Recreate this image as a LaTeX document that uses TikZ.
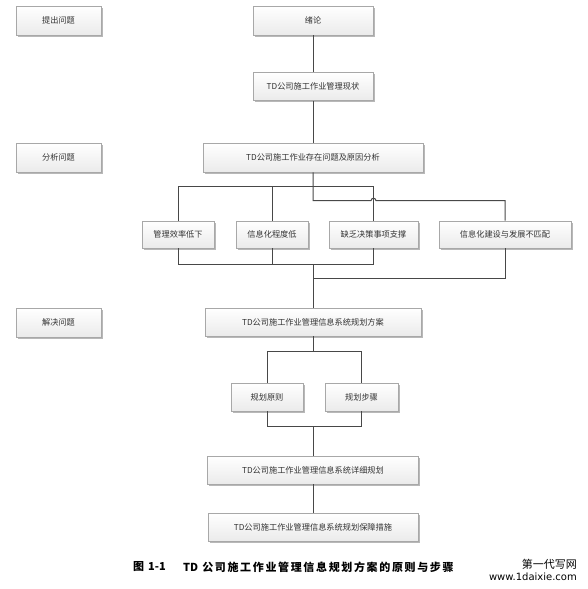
\documentclass[tikz,border=0pt]{standalone}
\usepackage{fontspec}
\usetikzlibrary{shadows}
\newfontfamily\cjk{Noto Sans CJK SC}
\newfontfamily\capfont[LetterSpace=15]{Noto Sans CJK SC}
\newfontfamily\wmfont{DejaVu Sans}
\definecolor{linec}{HTML}{484848}
\definecolor{boxline}{HTML}{A8A8A8}
\definecolor{txt}{HTML}{333333}
\tikzset{
  box/.style={draw=boxline, line width=0.6pt, top color=white, bottom color=black!8,
    drop shadow={shadow xshift=1.6pt, shadow yshift=-1.6pt, fill=black!35, opacity=0.8},
    inner sep=0pt, font=\cjk\fontsize{8.2}{9}\selectfont, text=txt},
  conn/.style={draw=linec, line width=1pt},
  capstyle/.style={anchor=west, inner sep=0pt, font=\capfont\bfseries\fontsize{11}{12}\selectfont},
}
\begin{document}
\begin{tikzpicture}[x=1pt,y=-1pt]
\useasboundingbox (0,0) rectangle (587,589);
% left labels
\node[box, minimum width=85pt, minimum height=29pt] (q1) at (58.5,20.5) {提出问题};
\node[box, minimum width=85pt, minimum height=29pt] (q2) at (58.5,157.5) {分析问题};
\node[box, minimum width=85pt, minimum height=29pt] (q3) at (58.5,322.5) {解决问题};
% main column
\node[box, minimum width=120pt, minimum height=29pt] (b1) at (313,20.5) {绪论};
\node[box, minimum width=120pt, minimum height=28pt] (b2) at (313,86.5) {TD公司施工作业管理现状};
\node[box, minimum width=220pt, minimum height=29pt] (b3) at (313,157.5) {TD公司施工作业存在问题及原因分析};
\node[box, minimum width=72pt, minimum height=27pt] (c1) at (178,234.5) {管理效率低下};
\node[box, minimum width=72pt, minimum height=27pt] (c2) at (272,234.5) {信息化程度低};
\node[box, minimum width=89pt, minimum height=27pt] (c3) at (373.5,234.5) {缺乏决策事项支撑};
\node[box, minimum width=132pt, minimum height=27pt] (c4) at (505,234.5) {信息化建设与发展不匹配};
\node[box, minimum width=216pt, minimum height=28pt] (b4) at (313,322) {TD公司施工作业管理信息系统规划方案};
\node[box, minimum width=72pt, minimum height=28pt] (d1) at (267,397) {规划原则};
\node[box, minimum width=73pt, minimum height=28pt] (d2) at (361.5,397) {规划步骤};
\node[box, minimum width=211pt, minimum height=28pt] (b5) at (313,470) {TD公司施工作业管理信息系统详细规划};
\node[box, minimum width=210pt, minimum height=28pt] (b6) at (313,527) {TD公司施工作业管理信息系统规划保障措施};
% coordinates
\coordinate (t1) at (178,186.7);
\coordinate (t2) at (272,186.7);
\coordinate (t3) at (373.5,186.7);
\coordinate (m1) at (313,200.7);
\coordinate (h1) at (371,200.7);
\coordinate (m2) at (505,200.7);
\coordinate (u1) at (178,264);
\coordinate (u2) at (272,264);
\coordinate (u3) at (373.5,264);
\coordinate (u0) at (313,264);
\coordinate (v1) at (505,278);
\coordinate (v0) at (313,278);
\coordinate (p0) at (313,351.7);
\coordinate (p1) at (267,351.7);
\coordinate (p2) at (361.5,351.7);
\coordinate (r0) at (313,426);
\coordinate (r1) at (267,426);
\coordinate (r2) at (361.5,426);
% connectors
\draw[conn] (b1.south) -- (b2.north);
\draw[conn] (b2.south) -- (b3.north);
\draw[conn] (b3.south) -- (m1) -- (h1) arc (180:360:2.5) -- (m2) -- (c4.north);
\draw[conn] (c1.north) -- (t1) -- (t3) -- (c3.north);
\draw[conn] (c2.north) -- (t2);
\draw[conn] (c1.south) -- (u1) -- (u3) -- (c3.south);
\draw[conn] (c2.south) -- (u2);
\draw[conn] (c4.south) -- (v1) -- (v0);
\draw[conn] (u0) -- (b4.north);
\draw[conn] (b4.south) -- (p0);
\draw[conn] (p1) -- (p2);
\draw[conn] (p1) -- (d1.north);
\draw[conn] (p2) -- (d2.north);
\draw[conn] (d1.south) -- (r1) -- (r2) -- (d2.south);
\draw[conn] (r0) -- (b5.north);
\draw[conn] (b5.south) -- (b6.north);
% caption
\node[capstyle] (cap1) at (133,567) {图\hspace{4pt}{\cjk\bfseries 1-1}};
\node[capstyle] (cap2) at (183,567) {{\cjk\bfseries TD}\hspace{4pt}公司施工作业管理信息规划方案的原则与步骤};
% watermark
\node[anchor=east, inner sep=0pt, font=\cjk\fontsize{11}{12}\selectfont] (wm1) at (577,564) {第一代写网};
\node[anchor=east, inner sep=0pt, font=\wmfont\fontsize{10}{11}\selectfont] (wm2) at (577,577) {www.1daixie.com};
\end{tikzpicture}
\end{document}
